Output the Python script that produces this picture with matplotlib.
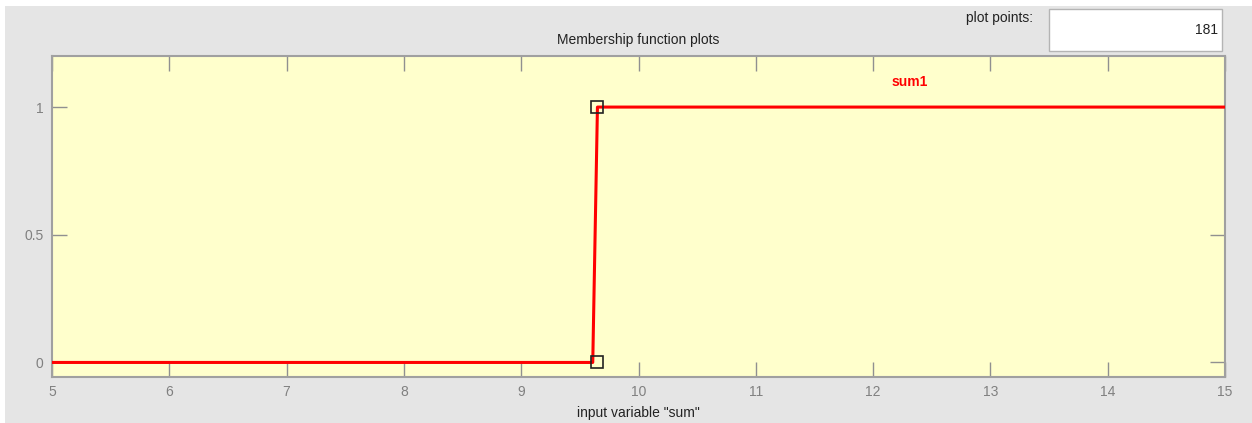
import matplotlib
matplotlib.use('Agg')
import matplotlib.pyplot as plt
from matplotlib.patches import Rectangle

plt.rcParams['font.family'] = ['Liberation Sans', 'DejaVu Sans']

# Membership function "sum1" over input variable "sum"
mf_x = [5, 9.61, 9.65, 15]
mf_y = [0, 0, 1, 1]
marker_x = [9.65, 9.65]
marker_y = [0, 1]
x_ticks = [5, 6, 7, 8, 9, 10, 11, 12, 13, 14, 15]
y_ticks = [0, 0.5, 1]
y_tick_labels = ['0', '0.5', '1']
mf_name = 'sum1'
plot_points = 181

W, H = 1252, 423
fig = plt.figure(figsize=(W / 100, H / 100), dpi=100)
fig.patch.set_facecolor('white')

# grey panel background
fig.patches.append(Rectangle((5 / W, 0), 1 - 5 / W, 1 - 6 / H, transform=fig.transFigure,
                             facecolor='#e5e5e5', edgecolor='none', zorder=-5))

# plot points box
fig.patches.append(Rectangle((1049 / W, 1 - 51 / H), 173 / W, 42 / H, transform=fig.transFigure,
                             facecolor='white', edgecolor='#b4b4b4', linewidth=1, zorder=-4))
fig.text(1033 / W, 1 - 18 / H, 'plot points:', ha='right', va='center', fontsize=10, color='#222222')
fig.text(1218 / W, 1 - 30 / H, str(plot_points), ha='right', va='center', fontsize=10, color='#222222')

ax = fig.add_axes([52 / W, 1 - 377 / H, (1225 - 52) / W, (377 - 56) / H])
ax.set_facecolor('#ffffcc')
ax.plot(mf_x, mf_y, color='red', lw=2.2, zorder=3)
ax.plot(marker_x, marker_y, ls='none', marker='s', ms=8, mfc='none', mec='#222222', mew=1.2, zorder=4)
ax.text(12.31, 1.1, mf_name, color='red', fontweight='bold', fontsize=10, ha='center', va='center')

ax.set_xlim(5, 15)
ax.set_ylim(-0.057, 1.2)
ax.set_xticks(x_ticks)
ax.set_yticks(y_ticks)
ax.set_yticklabels(y_tick_labels)
ax.tick_params(direction='in', length=11, width=1, color='#909090', labelcolor='#808080',
               labelsize=10, top=True, right=True, pad=6)
for s in ax.spines.values():
    s.set_color('#a0a0a0')
    s.set_linewidth(1.5)

ax.set_title('Membership function plots', fontsize=10, color='#222222', pad=9)
ax.set_xlabel('input variable "sum"', fontsize=10, color='#222222', labelpad=5)

fig.savefig('out.png', dpi=100, facecolor='white')
